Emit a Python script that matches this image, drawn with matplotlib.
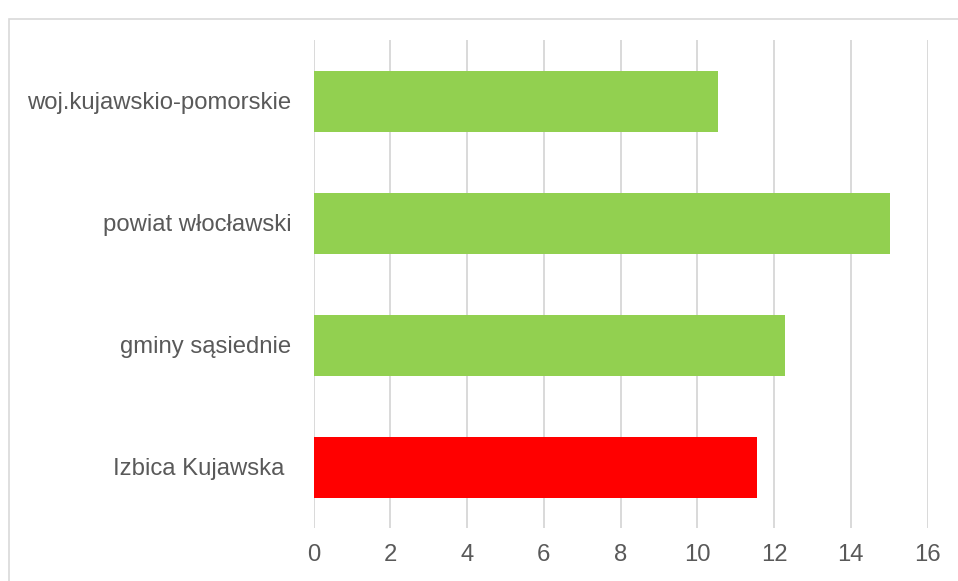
import matplotlib
matplotlib.use("Agg")
import matplotlib.pyplot as plt
from matplotlib.patches import Rectangle

categories = ["Izbica Kujawska ", "gminy sąsiednie", "powiat włocławski", "woj.kujawskio-pomorskie"]
values = [11.57, 12.28, 15.02, 10.55]
colors = ["#FF0000", "#92D050", "#92D050", "#92D050"]
xticks = [0, 2, 4, 6, 8, 10, 12, 14, 16]

plt.rcParams["font.family"] = ["Liberation Sans", "DejaVu Sans"]

W, H = 958, 581
fig = plt.figure(figsize=(W / 100, H / 100), dpi=100)
fig.patch.set_facecolor("white")

# light chart frame, cut off by the right/bottom edge of the image
fig.patches.append(Rectangle((9 / W, -0.1), 1.2, 1 - 19 / H + 0.1,
                             transform=fig.transFigure, fill=False,
                             edgecolor="#d9d9d9", linewidth=1.2))

ax = fig.add_axes([313.5 / W, 1 - 528 / H, (927.5 - 313.5) / W, (528 - 40) / H])
ax.barh(range(len(categories)), values, height=0.5, color=colors, zorder=3)

ax.set_xlim(0, 16)
ax.set_ylim(-0.5, len(categories) - 0.5)
ax.set_xticks(xticks)
ax.set_yticks(range(len(categories)))
ax.set_yticklabels(categories)
ax.grid(axis="x", color="#d9d9d9", linewidth=1.4, zorder=0)
for s in ax.spines.values():
    s.set_visible(False)
ax.tick_params(axis="both", length=0, labelcolor="#595959", labelsize=17.2)
ax.tick_params(axis="y", pad=16)
ax.tick_params(axis="x", pad=11.5)

fig.savefig("out.png", dpi=100)
